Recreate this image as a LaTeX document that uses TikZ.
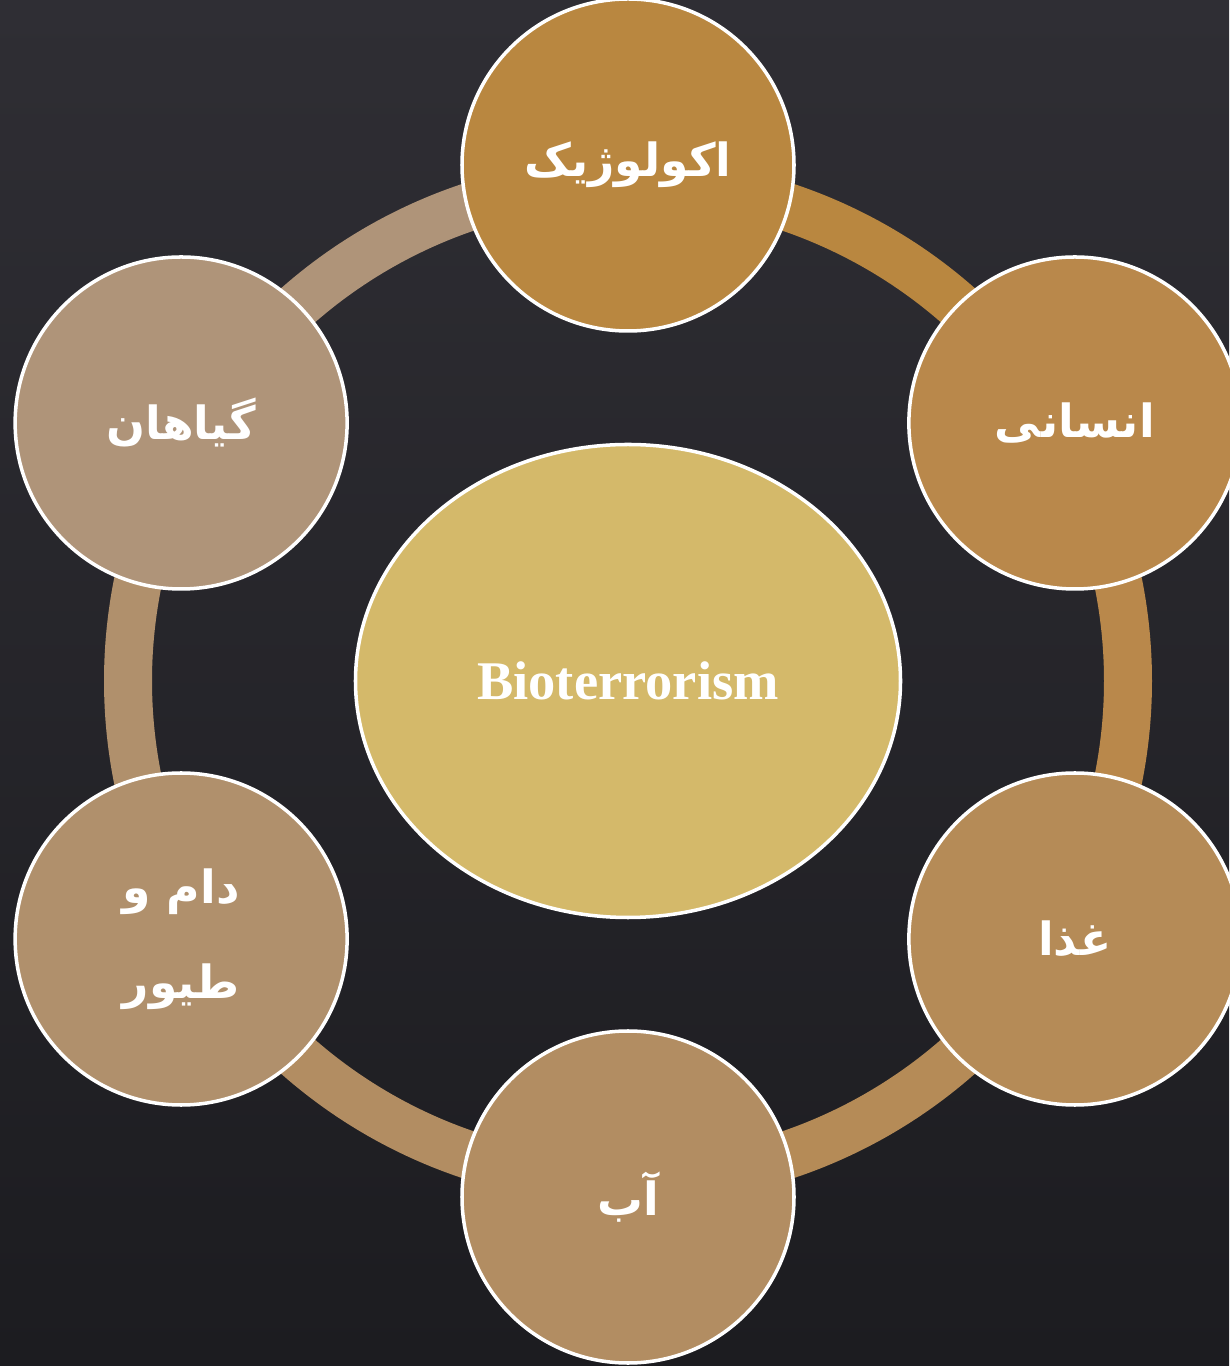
\documentclass[tikz,border=0pt]{standalone}
\usepackage{fontspec}
\newfontfamily\arabicfont[Script=Arabic]{DejaVu Sans}
\newfontfamily\titlefont{Liberation Serif}
\TeXXeTstate=1
\usetikzlibrary{shapes.geometric}

\definecolor{bgtop}{HTML}{2F2E34}
\definecolor{bgbot}{HTML}{1C1C20}
\definecolor{ecolcol}{HTML}{B98740}
\definecolor{humancol}{HTML}{B9884B}
\definecolor{foodcol}{HTML}{B58B57}
\definecolor{watercol}{HTML}{B28D62}
\definecolor{animalcol}{HTML}{B0906C}
\definecolor{plantcol}{HTML}{AF9479}
\definecolor{biocol}{HTML}{D4B96A}

\tikzset{every node/.style={align=center}}
\tikzset{topic/.style={circle, draw=white, line width=1pt, minimum size=3.32cm, text=white,
  font=\arabicfont\bfseries\fontsize{13}{27}\selectfont},
  ring/.style={line width=0.48cm}}

\begin{document}
\begin{tikzpicture}

\useasboundingbox (-6.28,-6.85) rectangle (6.01,6.81);
\shade[top color=bgtop, bottom color=bgbot] (-6.28,-6.85) rectangle (6.01,6.81);

\coordinate (hub) at (0,0);

% ring
\draw[ring, draw=ecolcol] (90:5) arc[start angle=90, end angle=30, radius=5];
\draw[ring, draw=humancol] (30:5) arc[start angle=30, end angle=-30, radius=5];
\draw[ring, draw=foodcol] (-30:5) arc[start angle=-30, end angle=-90, radius=5];
\draw[ring, draw=watercol] (-90:5) arc[start angle=-90, end angle=-150, radius=5];
\draw[ring, draw=animalcol] (210:5) arc[start angle=210, end angle=150, radius=5];
\draw[ring, draw=plantcol] (150:5) arc[start angle=150, end angle=90, radius=5];

\node[topic, fill=ecolcol] (ecology) at (90:5.16) {\beginR اکولوژیک\endR};
\node[topic, fill=humancol] (human) at (30:5.16) {\beginR انسانی\endR};
\node[topic, fill=foodcol] (food) at (-30:5.16) {\beginR غذا\endR};
\node[topic, fill=watercol] (water) at (-90:5.16) {\beginR آب\endR};
\node[topic, fill=animalcol] (animals) at (210:5.16) {\beginR دام و\endR\\\beginR طیور\endR};
\node[topic, fill=plantcol] (plants) at (150:5.16) {\beginR گیاهان\endR};

\node[ellipse, draw=white, line width=1pt, fill=biocol, inner sep=0pt,
  minimum width=5.45cm, minimum height=4.73cm, text=white,
  font=\titlefont\bfseries\fontsize{15.5}{18}\selectfont] (bio) at (hub) {Bioterrorism};

\end{tikzpicture}
\end{document}
